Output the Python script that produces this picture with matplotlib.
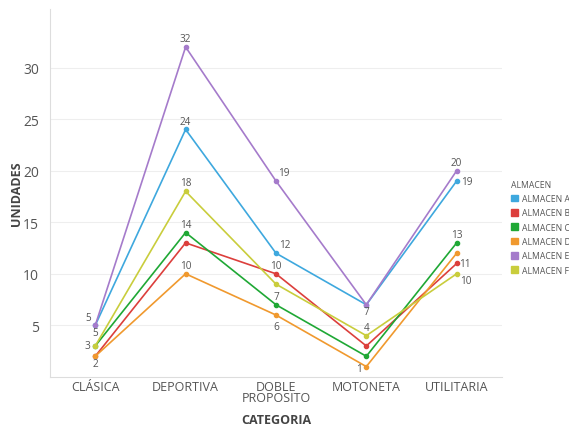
import matplotlib.pyplot as plt
import numpy as np

plt.rcParams['font.family'] = ['Open Sans', 'DejaVu Sans']

categorias = ["CLÁSICA", "DEPORTIVA", "DOBLE\nPROPOSITO", "MOTONETA", "UTILITARIA"]
almacenes = ["ALMACEN A", "ALMACEN B", "ALMACEN C", "ALMACEN D", "ALMACEN E", "ALMACEN F"]

almacen_a = [5, 24, 12, 7, 19]
almacen_b = [2, 13, 10, 3, 11]
almacen_c = [3, 14, 7, 2, 13]
almacen_d = [2, 10, 6, 1, 12]
almacen_e = [5, 32, 19, 7, 20]
almacen_f = [3, 18, 9, 4, 10]

colores = ["#3ea8de", "#dc3f3c", "#1fa835", "#f0992e", "#a57bcb", "#c9cd3c"]

# (serie, categoria, dx, dy): labels that get drawn, centre offset in points
etiquetas = [
    (4, 0, -5, 6), (0, 0, 0, -5), (2, 0, -6, 0), (1, 0, 0, -5),
    (4, 1, 0, 6), (0, 1, 0, 6), (5, 1, 0, 6), (2, 1, 0, 6), (3, 1, 0, 6),
    (4, 2, 6, 6), (0, 2, 6, 6), (1, 2, 0, 6), (2, 2, 0, 6), (3, 2, 0, -8),
    (0, 3, 0, -5), (5, 3, 0, 6), (3, 3, -5, -1.5),
    (4, 4, 0, 6), (0, 4, 7, 0), (2, 4, 0, 6), (1, 4, 6, 0), (5, 4, 6.5, -5),
]

series = [almacen_a, almacen_b, almacen_c, almacen_d, almacen_e, almacen_f]

fig = plt.figure(figsize=(5.69, 4.27), dpi=100)
ax = fig.add_axes([0.088, 0.115, 0.794, 0.862])

x = np.arange(len(categorias))
for nombre, vals, col in zip(almacenes, series, colores):
    ax.plot(x, vals, color=col, lw=1.2, marker='o', ms=3, label=nombre)

for s, i, dx, dy in etiquetas:
    v = series[s][i]
    ax.annotate(str(v), (x[i], v), xytext=(dx, dy), textcoords='offset points',
                ha='center', va='center', fontsize=7.2, color='#555555')

ax.set_xlim(-0.5, 4.5)
ax.set_ylim(0, 35.7)
ax.set_yticks([5, 10, 15, 20, 25, 30])
ax.set_xticks(x)
ax.set_xticklabels(categorias, linespacing=0.85)
ax.tick_params(length=0, colors='#555555')
ax.tick_params(axis='y', labelsize=10, pad=8)
ax.tick_params(axis='x', labelsize=9, pad=2)
ax.grid(axis='y', color='#eeeeee', lw=0.8)
ax.set_axisbelow(True)
for lado in ['top', 'right']:
    ax.spines[lado].set_visible(False)
for lado in ['left', 'bottom']:
    ax.spines[lado].set_color('#dddddd')
    ax.spines[lado].set_linewidth(0.8)

ax.set_xlabel("CATEGORIA", fontsize=9, fontweight='bold', color='#444444', labelpad=6)
ax.set_ylabel("UNIDADES", fontsize=9, fontweight='bold', color='#444444', labelpad=0)

# legend sits past the right edge of the axes and runs off the canvas
handles = [plt.Rectangle((0, 0), 1, 1, color=c) for c in colores]
leg = ax.legend(handles, almacenes, title="ALMACEN", loc='upper left',
                bbox_to_anchor=(1.012, 0.545), frameon=False, fontsize=6.2,
                title_fontsize=6.2, handlelength=0.8, handleheight=0.8,
                handletextpad=0.5, labelspacing=0.62, alignment='left',
                borderaxespad=0)
for t in leg.get_texts():
    t.set_color('#555555')
leg.get_title().set_color('#555555')

fig.savefig("out.png", dpi=100)
